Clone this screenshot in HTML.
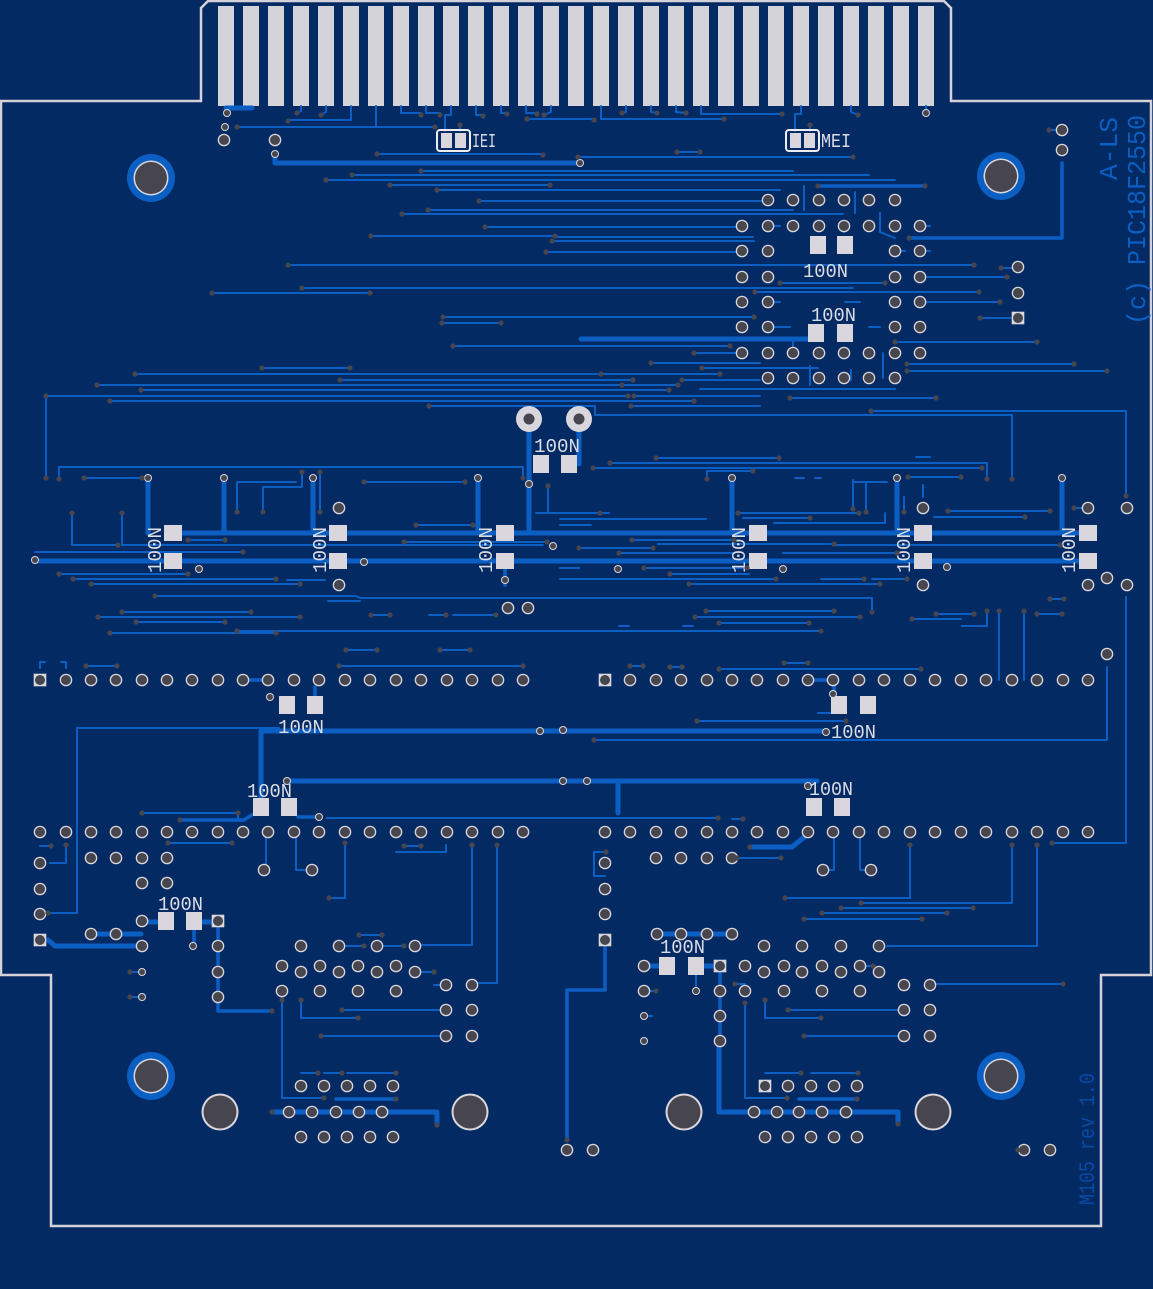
<!DOCTYPE html>
<html><head><meta charset="utf-8"><style>
html,body{margin:0;padding:0;background:#042a64;}
svg{display:block}
.t{stroke:#0b5ec2;stroke-width:2;fill:none;stroke-linecap:round;stroke-linejoin:round}
.m{stroke:#0b5ec2;stroke-width:3.5;fill:none;stroke-linecap:round;stroke-linejoin:round}
.T{stroke:#0b5ec2;stroke-width:5;fill:none;stroke-linecap:round;stroke-linejoin:round}
.w{fill:#dcdce4;font-family:"Liberation Mono",monospace;font-size:19px}
.b{fill:#0b5ec2;font-family:"Liberation Mono",monospace;font-size:26px}
</style></head><body>
<svg width="1153" height="1289" viewBox="0 0 1153 1289" xmlns="http://www.w3.org/2000/svg">
<defs>
<g id="p"><circle r="6.3" fill="#d9d7dd"/><circle r="5" fill="#47454d"/></g>
<g id="q"><rect x="-6.3" y="-6.3" width="12.6" height="12.6" fill="#d9d7dd"/><circle r="5" fill="#47454d"/></g>
<g id="r"><circle r="4" fill="#d9d7dd"/><circle r="3" fill="#47454d"/></g>
<circle id="v" r="2.6" fill="#47454d"/>
<rect id="s" x="-8" y="-9" width="16" height="18" fill="#d9d7dd"/>
<rect id="h" x="-9" y="-8" width="18" height="16" fill="#d9d7dd"/>
<g id="M"><circle r="24" fill="#0b5ec2"/><circle r="17.5" fill="#d9d7dd"/><circle r="16" fill="#47454d"/></g>
<g id="H"><circle r="18.5" fill="#d9d7dd"/><circle r="16.5" fill="#47454d"/></g>
</defs>
<rect width="1153" height="1289" fill="#042a64"/>
<!-- board outline -->
<path d="M0,101 H201 V8 L208,1 H944 L951,8 V101 H1151 V975 H1101 V1226 H51 V975 H1 V101" fill="none" stroke="#d4d2d8" stroke-width="2.5"/>
<!-- fingers -->
<g fill="#d5d3da">
<rect x="218" y="6" width="16" height="100"/><rect x="243" y="6" width="16" height="100"/><rect x="268" y="6" width="16" height="100"/><rect x="293" y="6" width="16" height="100"/><rect x="318" y="6" width="16" height="100"/><rect x="343" y="6" width="16" height="100"/><rect x="368" y="6" width="16" height="100"/><rect x="393" y="6" width="16" height="100"/><rect x="418" y="6" width="16" height="100"/><rect x="443" y="6" width="16" height="100"/><rect x="468" y="6" width="16" height="100"/><rect x="493" y="6" width="16" height="100"/><rect x="518" y="6" width="16" height="100"/><rect x="543" y="6" width="16" height="100"/><rect x="568" y="6" width="16" height="100"/><rect x="593" y="6" width="16" height="100"/><rect x="618" y="6" width="16" height="100"/><rect x="643" y="6" width="16" height="100"/><rect x="668" y="6" width="16" height="100"/><rect x="693" y="6" width="16" height="100"/><rect x="718" y="6" width="16" height="100"/><rect x="743" y="6" width="16" height="100"/><rect x="768" y="6" width="16" height="100"/><rect x="793" y="6" width="16" height="100"/><rect x="818" y="6" width="16" height="100"/><rect x="843" y="6" width="16" height="100"/><rect x="868" y="6" width="16" height="100"/><rect x="893" y="6" width="16" height="100"/><rect x="918" y="6" width="16" height="100"/>
</g>
<!-- thin traces -->
<path class="t" d="
M301,106 V111 L297,113 M326,106 V112 L321,115 M351,106 V120 H288 M376,106 V127 M237,127 H435
M401,106 V113 H421 M426,106 V113 H440 M451,106 V115 H445 V131 M460,125 V131 M476,106 V115 H483
M501,106 V113 H507 M526,106 V113 H537 M527,119 H594 M551,106 V112 L544,115 M601,106 V119 H724
M626,106 V112 L622,113 M651,106 V112 L657,113 M676,106 V112 L686,113 M701,106 V114 H782
M801,106 V114 H795 V131 M810,125 V131 M851,106 V112 L858,115 M926,106 V113
M377,154 H543 M578,157 H853 M677,152 H700 M421,171 H793 M352,175 H869 M326,180 H895 M390,185 H550
M437,190 H780 M479,201 H768 M428,210 H793 M402,214 H843 M485,227 H742 M371,236 H555 L556,237 H753
M552,241 H754 M546,252 H742 M288,265 H974 M780,283 H885 M302,288 H853 M212,293 H370 M755,292 H979
M920,302 H1000 M920,277 H1007 M1001,268 H1013 M980,318 H1012 M443,317 H754 M442,323 H501 M895,342 H1037 M453,346 H730 M694,353 H742
M651,363 H760 M907,364 H1074 M262,368 H350 M702,368 H818 M907,371 H1107 M135,374 H720 M340,380 H633 M682,380 H760
M97,385 H678 M141,390 H669 M700,389 H895 M46,396 H628 M634,396 H760 M790,398 H936 M110,401 H694
M46,396 V478 M429,406 H595 V415 H1012 V479 M631,406 H760 M871,411 H1126 V496
M804,186 V210 M855,192 V213 M880,213 V232 L895,238 M768,226 H780 M844,226 V232 M895,251 H905 M920,226 H930 M920,251 H930
M768,302 H780 M845,302 H860 M768,327 H790 M742,353 H732 M793,353 V340 M869,327 H880 M883,353 V378 M851,370 V380 M810,366 V385
M1049,130 H1061
M59,479 V467 H523 V478 M84,478 H142 M72,513 V545 H118 M122,513 V545 H543 M188,540 H225 M35,552 H243
M237,512 V482 H296 M263,512 V487 H302 V472 M320,472 V512 M364,482 H465 M416,525 H473 M404,542 H547 M536,513 H600 M548,486 V513
M610,463 H987 V479 M593,468 H982 M656,458 H779 M916,457 H930 M707,479 V471 H753 M908,477 H961 M795,478 H804 M815,478 H821
M853,480 V509 M866,482 V512 M853,482 H887 M923,485 V497 M904,497 V512 M738,513 H859 M743,518 H810 M774,523 H885 V513
M948,511 H1050 M934,517 H1025 M560,513 H609 M560,519 H706 M560,525 H591 M632,540 H734 M658,544 H834 M834,545 H948 M579,548 H653
M619,553 H734 M783,553 H897 M560,568 H579 M644,568 H747 M670,574 H749 M560,579 H776 M821,579 H864 M872,579 H907 M689,584 H880
M936,545 H1060 M940,560 H1075 M1074,508 H1082
M155,596 H356 L360,598 H872 V612 M706,611 H834 M695,617 H860 M719,623 H809 M619,626 H629 M683,626 H693
M98,617 H300 M237,631 H821 M110,633 H276 M136,622 H225 M122,612 H251 M91,584 H300 M73,579 H276 M59,574 H188 M287,580 H325
M328,601 H360 M371,615 H390 M429,615 H446 M453,615 H496 M346,650 H377 M440,650 H470
M936,614 H974 M1037,614 H1062 M912,619 H961 M962,626 H987 V611 M999,611 V680 M1024,611 V680 M1050,599 H1064
M1126,597 V843 H1052 M1107,667 V740 H594
M86,666 H117 M339,666 H523 M40,668 V662 H45 M61,662 H66 V668 M630,666 H643 M670,667 H682 M784,663 H808 M719,669 H921
M77,728 H279 M77,728 V913 H48 M697,721 H846 M818,713 H832
M142,813 H238 V820 M327,818 H718 M732,819 H743
M737,858 H781 M594,852 V876 H605 M594,852 H606
M168,843 H232 M40,846 H51 M66,845 V863 H50 M404,846 H421 M396,852 H446 V845 M472,845 V945 H415 M497,845 V983 H472
M266,838 V870 M296,838 V870 H312 M345,843 V898 H329 M834,838 V870 H823 M860,838 V870 H871
M910,845 V898 H785 M1012,845 V903 H861 M841,908 H973 M822,913 H947 M804,919 H922 M1037,845 V946 H887 M936,984 H1063
M359,935 H382 M339,946 H364 M377,946 H404 M415,972 H434 M434,985 H446 M130,972 H142 M130,997 H142
M282,991 V1098 H324 M301,1000 V1018 H358 M342,1010 H446 M321,1036 H446
M301,1073 H318 M324,1073 H342 M347,1073 H396
M656,991 H644 M745,1003 V1098 H787 M765,1000 V1018 H821 M788,1010 H904 M804,1036 H904
M765,1073 H801 M811,1073 H858 M696,975 V991 M644,1016 H652 M860,966 H873 M745,984 H735
M1018,1150 H1024"/>
<!-- medium traces -->
<path class="m" d="M1062,163 V238 H909 M818,186 H925 M605,940 V990 H567 V1140 M218,921 V1011 H272 M720,966 V1041
M336,1099 H396 M799,1099 H857 M243,680 H268 M808,680 H833 M834,686 V697 M315,687 V697 M298,817 H320
M180,820 H244 L252,815 M194,930 V946 M505,561 V585 M505,560 V578"/>
<!-- thick traces -->
<path class="T" d="M226,108 H252 M275,155 V163 H580 M581,339 H807
M148,478 V533 M224,478 V533 M313,478 V533 M478,478 V533 M529,430 V533 M579,430 V464 M732,478 V533 M897,478 V533 M1062,478 V533
M173,533 H1088 M35,561 H1088
M261,731 H826 M261,731 V806 M287,781 H817 M618,781 V813 M750,847 H792 L808,834
M91,934 H141 M48,940 L55,946 H142 M142,922 H158 M202,922 H218 M644,966 H658 M704,966 H720 M657,934 H732
M272,1112 H437 V1125 M719,1045 V1112 H898 V1124"/>
<!-- mounting holes -->
<use href="#M" x="151" y="178"/><use href="#M" x="1001" y="176"/><use href="#M" x="151" y="1076"/><use href="#M" x="1001" y="1076"/>
<use href="#H" x="220" y="1112"/><use href="#H" x="470" y="1112"/><use href="#H" x="684" y="1112"/><use href="#H" x="933" y="1112"/>
<!-- top misc pads -->
<use href="#r" x="227" y="113"/><use href="#r" x="225" y="127"/><use href="#p" x="224" y="140"/><use href="#p" x="275" y="140"/><use href="#r" x="275" y="154"/>
<use href="#r" x="926" y="113"/><use href="#r" x="580" y="163"/>
<use href="#p" x="1062" y="130"/><use href="#p" x="1062" y="150"/><use href="#p" x="1018" y="267"/><use href="#p" x="1018" y="293"/><use href="#q" x="1018" y="318"/>
<!-- IEI / MEI -->
<rect x="437" y="130" width="33" height="21" rx="3" fill="none" stroke="#eeeef2" stroke-width="2"/>
<rect x="441" y="133" width="11" height="15" fill="#d9d7dd"/><rect x="455" y="133" width="11" height="15" fill="#d9d7dd"/>
<rect x="786" y="130" width="33" height="21" rx="3" fill="none" stroke="#eeeef2" stroke-width="2"/>
<rect x="790" y="133" width="11" height="15" fill="#d9d7dd"/><rect x="804" y="133" width="11" height="15" fill="#d9d7dd"/>
<text class="w" x="472" y="147" textLength="24" lengthAdjust="spacingAndGlyphs">IEI</text>
<text class="w" x="821" y="147" textLength="30" lengthAdjust="spacingAndGlyphs">MEI</text>
<!-- upper IC pads -->
<g>
<use href="#p" x="768" y="200"/><use href="#p" x="793" y="200"/><use href="#p" x="819" y="200"/><use href="#p" x="844" y="200"/><use href="#p" x="869" y="200"/><use href="#p" x="895" y="200"/>
<use href="#p" x="742" y="226"/><use href="#p" x="768" y="226"/><use href="#p" x="793" y="226"/><use href="#p" x="819" y="226"/><use href="#p" x="844" y="226"/><use href="#p" x="869" y="226"/><use href="#p" x="895" y="226"/><use href="#p" x="920" y="226"/>
<use href="#p" x="742" y="251"/><use href="#p" x="768" y="251"/><use href="#p" x="895" y="251"/><use href="#p" x="920" y="251"/>
<use href="#p" x="742" y="277"/><use href="#p" x="768" y="277"/><use href="#p" x="895" y="277"/><use href="#p" x="920" y="277"/>
<use href="#p" x="742" y="302"/><use href="#p" x="768" y="302"/><use href="#p" x="895" y="302"/><use href="#p" x="920" y="302"/>
<use href="#p" x="742" y="327"/><use href="#p" x="768" y="327"/><use href="#p" x="895" y="327"/><use href="#p" x="920" y="327"/>
<use href="#p" x="742" y="353"/><use href="#p" x="768" y="353"/><use href="#p" x="793" y="353"/><use href="#p" x="819" y="353"/><use href="#p" x="844" y="353"/><use href="#p" x="869" y="353"/><use href="#p" x="895" y="353"/><use href="#p" x="920" y="353"/>
<use href="#p" x="768" y="378"/><use href="#p" x="793" y="378"/><use href="#p" x="819" y="378"/><use href="#p" x="844" y="378"/><use href="#p" x="869" y="378"/><use href="#p" x="895" y="378"/>
</g>
<use href="#s" x="818" y="245"/><use href="#s" x="845" y="245"/><use href="#s" x="816" y="333"/><use href="#s" x="845" y="333"/>
<text class="w" x="803" y="277" textLength="45" lengthAdjust="spacingAndGlyphs">100N</text>
<text class="w" x="811" y="321" textLength="45" lengthAdjust="spacingAndGlyphs">100N</text>
<!-- center cap -->
<circle cx="529" cy="419" r="13" fill="#d9d7dd"/><circle cx="529" cy="419" r="5.5" fill="#47454d"/>
<circle cx="579" cy="419" r="13" fill="#d9d7dd"/><circle cx="579" cy="419" r="5.5" fill="#47454d"/>
<use href="#s" x="541" y="464"/><use href="#s" x="569" y="464"/>
<text class="w" x="534" y="452" textLength="46" lengthAdjust="spacingAndGlyphs">100N</text>
<!-- row caps -->
<use href="#h" x="173" y="533"/><use href="#h" x="173" y="561"/><use href="#h" x="338" y="533"/><use href="#h" x="338" y="561"/>
<use href="#h" x="505" y="533"/><use href="#h" x="505" y="561"/><use href="#h" x="758" y="533"/><use href="#h" x="758" y="561"/>
<use href="#h" x="923" y="533"/><use href="#h" x="923" y="561"/><use href="#h" x="1088" y="533"/><use href="#h" x="1088" y="561"/>
<text class="w" transform="translate(161,573) rotate(-90)" textLength="46" lengthAdjust="spacingAndGlyphs">100N</text>
<text class="w" transform="translate(326,573) rotate(-90)" textLength="46" lengthAdjust="spacingAndGlyphs">100N</text>
<text class="w" transform="translate(492,573) rotate(-90)" textLength="46" lengthAdjust="spacingAndGlyphs">100N</text>
<text class="w" transform="translate(745,573) rotate(-90)" textLength="46" lengthAdjust="spacingAndGlyphs">100N</text>
<text class="w" transform="translate(910,573) rotate(-90)" textLength="46" lengthAdjust="spacingAndGlyphs">100N</text>
<text class="w" transform="translate(1075,573) rotate(-90)" textLength="46" lengthAdjust="spacingAndGlyphs">100N</text>
<!-- middle pads -->
<use href="#p" x="339" y="508"/><use href="#p" x="339" y="585"/><use href="#p" x="923" y="508"/><use href="#p" x="923" y="585"/>
<use href="#p" x="1088" y="508"/><use href="#p" x="1127" y="508"/><use href="#p" x="1107" y="578"/><use href="#p" x="1088" y="585"/><use href="#p" x="1127" y="585"/><use href="#p" x="1107" y="654"/>
<use href="#p" x="508" y="608"/><use href="#p" x="528" y="608"/>
<use href="#r" x="148" y="478"/><use href="#r" x="224" y="478"/><use href="#r" x="313" y="478"/><use href="#r" x="478" y="478"/><use href="#r" x="529" y="484"/>
<use href="#r" x="732" y="478"/><use href="#r" x="897" y="478"/><use href="#r" x="1062" y="478"/><use href="#r" x="35" y="560"/><use href="#r" x="199" y="569"/><use href="#r" x="364" y="562"/><use href="#r" x="505" y="580"/>
<use href="#r" x="553" y="546"/><use href="#r" x="618" y="569"/><use href="#r" x="783" y="569"/><use href="#r" x="947" y="567"/>
<!-- pad rows -->
<g>
<use href="#q" x="40" y="680"/><use href="#p" x="66" y="680"/><use href="#p" x="91" y="680"/><use href="#p" x="116" y="680"/><use href="#p" x="142" y="680"/><use href="#p" x="167" y="680"/><use href="#p" x="192" y="680"/><use href="#p" x="218" y="680"/><use href="#p" x="243" y="680"/><use href="#p" x="268" y="680"/><use href="#p" x="294" y="680"/><use href="#p" x="319" y="680"/><use href="#p" x="345" y="680"/><use href="#p" x="370" y="680"/><use href="#p" x="396" y="680"/><use href="#p" x="421" y="680"/><use href="#p" x="447" y="680"/><use href="#p" x="472" y="680"/><use href="#p" x="498" y="680"/><use href="#p" x="523" y="680"/>
<use href="#q" x="605" y="680"/><use href="#p" x="630" y="680"/><use href="#p" x="656" y="680"/><use href="#p" x="681" y="680"/><use href="#p" x="707" y="680"/><use href="#p" x="732" y="680"/><use href="#p" x="757" y="680"/><use href="#p" x="783" y="680"/><use href="#p" x="808" y="680"/><use href="#p" x="833" y="680"/><use href="#p" x="859" y="680"/><use href="#p" x="884" y="680"/><use href="#p" x="910" y="680"/><use href="#p" x="935" y="680"/><use href="#p" x="961" y="680"/><use href="#p" x="986" y="680"/><use href="#p" x="1012" y="680"/><use href="#p" x="1037" y="680"/><use href="#p" x="1063" y="680"/><use href="#p" x="1088" y="680"/>
<use href="#p" x="40" y="832"/><use href="#p" x="66" y="832"/><use href="#p" x="91" y="832"/><use href="#p" x="116" y="832"/><use href="#p" x="142" y="832"/><use href="#p" x="167" y="832"/><use href="#p" x="192" y="832"/><use href="#p" x="218" y="832"/><use href="#p" x="243" y="832"/><use href="#p" x="268" y="832"/><use href="#p" x="294" y="832"/><use href="#p" x="319" y="832"/><use href="#p" x="345" y="832"/><use href="#p" x="370" y="832"/><use href="#p" x="396" y="832"/><use href="#p" x="421" y="832"/><use href="#p" x="447" y="832"/><use href="#p" x="472" y="832"/><use href="#p" x="498" y="832"/><use href="#p" x="523" y="832"/>
<use href="#p" x="605" y="832"/><use href="#p" x="630" y="832"/><use href="#p" x="656" y="832"/><use href="#p" x="681" y="832"/><use href="#p" x="707" y="832"/><use href="#p" x="732" y="832"/><use href="#p" x="757" y="832"/><use href="#p" x="783" y="832"/><use href="#p" x="808" y="832"/><use href="#p" x="833" y="832"/><use href="#p" x="859" y="832"/><use href="#p" x="884" y="832"/><use href="#p" x="910" y="832"/><use href="#p" x="935" y="832"/><use href="#p" x="961" y="832"/><use href="#p" x="986" y="832"/><use href="#p" x="1012" y="832"/><use href="#p" x="1037" y="832"/><use href="#p" x="1063" y="832"/><use href="#p" x="1088" y="832"/>
</g>
<!-- mid caps -->
<use href="#s" x="287" y="705"/><use href="#s" x="315" y="705"/><use href="#s" x="261" y="807"/><use href="#s" x="289" y="807"/>
<use href="#s" x="839" y="705"/><use href="#s" x="868" y="705"/><use href="#s" x="814" y="807"/><use href="#s" x="842" y="807"/>
<use href="#r" x="270" y="697"/><use href="#r" x="287" y="781"/><use href="#r" x="540" y="731"/><use href="#r" x="563" y="730"/><use href="#r" x="826" y="732"/><use href="#r" x="563" y="781"/><use href="#r" x="587" y="781"/><use href="#r" x="319" y="817"/><use href="#r" x="808" y="786"/><use href="#r" x="833" y="694"/>
<text class="w" x="278" y="733" textLength="46" lengthAdjust="spacingAndGlyphs">100N</text>
<text class="w" x="247" y="797" textLength="45" lengthAdjust="spacingAndGlyphs">100N</text>
<text class="w" x="831" y="738" textLength="45" lengthAdjust="spacingAndGlyphs">100N</text>
<text class="w" x="809" y="795" textLength="44" lengthAdjust="spacingAndGlyphs">100N</text>
<!-- lower left -->
<g>
<use href="#p" x="40" y="863"/><use href="#p" x="40" y="889"/><use href="#p" x="40" y="914"/><use href="#q" x="40" y="940"/>
<use href="#p" x="91" y="858"/><use href="#p" x="116" y="858"/><use href="#p" x="142" y="858"/><use href="#p" x="167" y="858"/>
<use href="#p" x="142" y="883"/><use href="#p" x="167" y="883"/><use href="#p" x="142" y="921"/><use href="#q" x="218" y="921"/>
<use href="#p" x="91" y="934"/><use href="#p" x="116" y="934"/><use href="#p" x="142" y="946"/><use href="#r" x="193" y="946"/>
<use href="#p" x="218" y="946"/><use href="#p" x="218" y="972"/><use href="#p" x="218" y="997"/><use href="#r" x="142" y="972"/><use href="#r" x="142" y="997"/>
<use href="#p" x="264" y="870"/><use href="#p" x="312" y="870"/>
<use href="#p" x="301" y="946"/><use href="#p" x="339" y="946"/><use href="#p" x="377" y="946"/><use href="#p" x="415" y="946"/>
<use href="#p" x="282" y="966"/><use href="#p" x="320" y="966"/><use href="#p" x="358" y="966"/><use href="#p" x="396" y="966"/>
<use href="#p" x="301" y="972"/><use href="#p" x="339" y="972"/><use href="#p" x="377" y="972"/><use href="#p" x="415" y="972"/>
<use href="#p" x="282" y="991"/><use href="#p" x="320" y="991"/><use href="#p" x="358" y="991"/><use href="#p" x="396" y="991"/>
<use href="#p" x="446" y="985"/><use href="#p" x="472" y="985"/><use href="#p" x="446" y="1010"/><use href="#p" x="472" y="1010"/><use href="#p" x="446" y="1036"/><use href="#p" x="472" y="1036"/>
<use href="#p" x="301" y="1086"/><use href="#p" x="324" y="1086"/><use href="#p" x="347" y="1086"/><use href="#p" x="370" y="1086"/><use href="#p" x="393" y="1086"/>
<use href="#p" x="289" y="1112"/><use href="#p" x="312" y="1112"/><use href="#p" x="336" y="1112"/><use href="#p" x="359" y="1112"/><use href="#p" x="382" y="1112"/>
<use href="#p" x="301" y="1137"/><use href="#p" x="324" y="1137"/><use href="#p" x="347" y="1137"/><use href="#p" x="370" y="1137"/><use href="#p" x="393" y="1137"/>
</g>
<use href="#s" x="166" y="921"/><use href="#s" x="194" y="921"/>
<text class="w" x="158" y="910" textLength="45" lengthAdjust="spacingAndGlyphs">100N</text>
<!-- lower right -->
<g>
<use href="#p" x="605" y="863"/><use href="#p" x="605" y="889"/><use href="#p" x="605" y="914"/><use href="#q" x="605" y="940"/>
<use href="#p" x="656" y="858"/><use href="#p" x="681" y="858"/><use href="#p" x="707" y="858"/><use href="#p" x="732" y="858"/>
<use href="#p" x="657" y="934"/><use href="#p" x="681" y="934"/><use href="#p" x="707" y="934"/><use href="#p" x="732" y="934"/>
<use href="#p" x="644" y="966"/><use href="#q" x="720" y="966"/><use href="#p" x="644" y="991"/><use href="#p" x="720" y="991"/><use href="#r" x="696" y="991"/>
<use href="#r" x="644" y="1016"/><use href="#r" x="644" y="1041"/><use href="#p" x="720" y="1016"/><use href="#p" x="720" y="1041"/>
<use href="#p" x="823" y="870"/><use href="#p" x="871" y="870"/>
<use href="#p" x="764" y="946"/><use href="#p" x="802" y="946"/><use href="#p" x="841" y="946"/><use href="#p" x="879" y="946"/>
<use href="#p" x="745" y="966"/><use href="#p" x="784" y="966"/><use href="#p" x="822" y="966"/><use href="#p" x="860" y="966"/>
<use href="#p" x="764" y="972"/><use href="#p" x="802" y="972"/><use href="#p" x="841" y="972"/><use href="#p" x="879" y="972"/>
<use href="#p" x="745" y="991"/><use href="#p" x="784" y="991"/><use href="#p" x="822" y="991"/><use href="#p" x="860" y="991"/>
<use href="#p" x="904" y="985"/><use href="#p" x="930" y="985"/><use href="#p" x="904" y="1010"/><use href="#p" x="930" y="1010"/><use href="#p" x="904" y="1036"/><use href="#p" x="930" y="1036"/>
<use href="#q" x="765" y="1086"/><use href="#p" x="788" y="1086"/><use href="#p" x="811" y="1086"/><use href="#p" x="834" y="1086"/><use href="#p" x="857" y="1086"/>
<use href="#p" x="754" y="1112"/><use href="#p" x="777" y="1112"/><use href="#p" x="799" y="1112"/><use href="#p" x="822" y="1112"/><use href="#p" x="846" y="1112"/>
<use href="#p" x="765" y="1137"/><use href="#p" x="788" y="1137"/><use href="#p" x="811" y="1137"/><use href="#p" x="834" y="1137"/><use href="#p" x="857" y="1137"/>
<use href="#p" x="567" y="1150"/><use href="#p" x="593" y="1150"/><use href="#p" x="1024" y="1150"/><use href="#p" x="1050" y="1150"/>
</g>
<use href="#s" x="667" y="966"/><use href="#s" x="696" y="966"/>
<text class="w" x="660" y="953" textLength="45" lengthAdjust="spacingAndGlyphs">100N</text>
<!-- vias -->
<g>
<use href="#v" x="297" y="113"/><use href="#v" x="321" y="115"/><use href="#v" x="288" y="121"/><use href="#v" x="237" y="127"/><use href="#v" x="435" y="127"/><use href="#v" x="421" y="115"/><use href="#v" x="440" y="115"/><use href="#v" x="460" y="125"/><use href="#v" x="483" y="116"/><use href="#v" x="507" y="114"/><use href="#v" x="537" y="114"/><use href="#v" x="527" y="119"/><use href="#v" x="544" y="115"/><use href="#v" x="594" y="120"/><use href="#v" x="622" y="113"/><use href="#v" x="657" y="113"/><use href="#v" x="686" y="113"/><use href="#v" x="724" y="119"/><use href="#v" x="782" y="114"/><use href="#v" x="810" y="125"/><use href="#v" x="858" y="115"/>
<use href="#v" x="543" y="155"/><use href="#v" x="377" y="154"/><use href="#v" x="578" y="157"/><use href="#v" x="853" y="157"/><use href="#v" x="677" y="152"/><use href="#v" x="700" y="152"/><use href="#v" x="421" y="171"/><use href="#v" x="352" y="175"/><use href="#v" x="326" y="180"/><use href="#v" x="390" y="185"/><use href="#v" x="550" y="185"/><use href="#v" x="818" y="186"/><use href="#v" x="925" y="186"/><use href="#v" x="437" y="190"/><use href="#v" x="479" y="201"/><use href="#v" x="428" y="210"/><use href="#v" x="402" y="214"/><use href="#v" x="485" y="227"/><use href="#v" x="371" y="236"/><use href="#v" x="555" y="236"/><use href="#v" x="552" y="241"/><use href="#v" x="546" y="252"/><use href="#v" x="288" y="265"/><use href="#v" x="974" y="265"/><use href="#v" x="302" y="288"/><use href="#v" x="212" y="293"/><use href="#v" x="370" y="293"/><use href="#v" x="443" y="317"/><use href="#v" x="754" y="317"/><use href="#v" x="442" y="323"/><use href="#v" x="501" y="323"/><use href="#v" x="453" y="346"/><use href="#v" x="730" y="346"/><use href="#v" x="694" y="353"/><use href="#v" x="651" y="363"/><use href="#v" x="262" y="368"/><use href="#v" x="350" y="368"/><use href="#v" x="702" y="368"/><use href="#v" x="135" y="374"/><use href="#v" x="720" y="374"/><use href="#v" x="601" y="374"/><use href="#v" x="340" y="380"/><use href="#v" x="633" y="380"/><use href="#v" x="682" y="380"/><use href="#v" x="97" y="385"/><use href="#v" x="678" y="385"/><use href="#v" x="622" y="385"/><use href="#v" x="141" y="390"/><use href="#v" x="669" y="390"/><use href="#v" x="46" y="396"/><use href="#v" x="628" y="396"/><use href="#v" x="634" y="396"/><use href="#v" x="110" y="401"/><use href="#v" x="694" y="401"/><use href="#v" x="429" y="406"/><use href="#v" x="631" y="406"/><use href="#v" x="871" y="411"/><use href="#v" x="1126" y="496"/><use href="#v" x="1012" y="479"/><use href="#v" x="1049" y="130"/><use href="#v" x="1001" y="268"/><use href="#v" x="1007" y="277"/><use href="#v" x="1000" y="302"/><use href="#v" x="980" y="318"/><use href="#v" x="1037" y="342"/><use href="#v" x="1074" y="364"/><use href="#v" x="1107" y="371"/><use href="#v" x="909" y="238"/><use href="#v" x="780" y="283"/><use href="#v" x="885" y="283"/><use href="#v" x="755" y="292"/><use href="#v" x="979" y="292"/><use href="#v" x="907" y="364"/><use href="#v" x="907" y="371"/><use href="#v" x="790" y="398"/><use href="#v" x="936" y="398"/><use href="#v" x="1000" y="302"/><use href="#v" x="895" y="342"/>
<use href="#v" x="59" y="479"/><use href="#v" x="46" y="478"/><use href="#v" x="84" y="478"/><use href="#v" x="142" y="478"/><use href="#v" x="72" y="513"/><use href="#v" x="122" y="513"/><use href="#v" x="118" y="545"/><use href="#v" x="188" y="540"/><use href="#v" x="225" y="540"/><use href="#v" x="243" y="552"/><use href="#v" x="237" y="512"/><use href="#v" x="263" y="512"/><use href="#v" x="302" y="472"/><use href="#v" x="320" y="472"/><use href="#v" x="320" y="512"/><use href="#v" x="364" y="482"/><use href="#v" x="465" y="482"/><use href="#v" x="416" y="525"/><use href="#v" x="473" y="525"/><use href="#v" x="404" y="542"/><use href="#v" x="547" y="542"/><use href="#v" x="600" y="513"/><use href="#v" x="548" y="486"/><use href="#v" x="523" y="478"/>
<use href="#v" x="610" y="463"/><use href="#v" x="987" y="479"/><use href="#v" x="593" y="468"/><use href="#v" x="982" y="468"/><use href="#v" x="656" y="458"/><use href="#v" x="779" y="458"/><use href="#v" x="707" y="479"/><use href="#v" x="753" y="471"/><use href="#v" x="908" y="477"/><use href="#v" x="961" y="477"/><use href="#v" x="853" y="509"/><use href="#v" x="866" y="512"/><use href="#v" x="904" y="512"/><use href="#v" x="738" y="513"/><use href="#v" x="859" y="513"/><use href="#v" x="810" y="518"/><use href="#v" x="948" y="511"/><use href="#v" x="1050" y="511"/><use href="#v" x="1025" y="517"/><use href="#v" x="632" y="540"/><use href="#v" x="734" y="540"/><use href="#v" x="834" y="544"/><use href="#v" x="1060" y="545"/><use href="#v" x="579" y="548"/><use href="#v" x="653" y="548"/><use href="#v" x="619" y="553"/><use href="#v" x="897" y="553"/><use href="#v" x="644" y="568"/><use href="#v" x="747" y="568"/><use href="#v" x="670" y="574"/><use href="#v" x="776" y="579"/><use href="#v" x="864" y="579"/><use href="#v" x="907" y="579"/><use href="#v" x="689" y="584"/><use href="#v" x="880" y="584"/><use href="#v" x="1074" y="508"/>
<use href="#v" x="155" y="596"/><use href="#v" x="872" y="612"/><use href="#v" x="706" y="611"/><use href="#v" x="834" y="611"/><use href="#v" x="695" y="617"/><use href="#v" x="860" y="617"/><use href="#v" x="719" y="623"/><use href="#v" x="809" y="623"/><use href="#v" x="98" y="617"/><use href="#v" x="300" y="617"/><use href="#v" x="237" y="631"/><use href="#v" x="821" y="631"/><use href="#v" x="110" y="633"/><use href="#v" x="276" y="633"/><use href="#v" x="136" y="622"/><use href="#v" x="225" y="622"/><use href="#v" x="122" y="612"/><use href="#v" x="251" y="612"/><use href="#v" x="91" y="584"/><use href="#v" x="300" y="584"/><use href="#v" x="73" y="579"/><use href="#v" x="276" y="579"/><use href="#v" x="59" y="574"/><use href="#v" x="188" y="574"/><use href="#v" x="371" y="615"/><use href="#v" x="390" y="615"/><use href="#v" x="446" y="615"/><use href="#v" x="496" y="615"/><use href="#v" x="346" y="650"/><use href="#v" x="377" y="650"/><use href="#v" x="440" y="650"/><use href="#v" x="470" y="650"/><use href="#v" x="936" y="614"/><use href="#v" x="974" y="614"/><use href="#v" x="1037" y="614"/><use href="#v" x="1062" y="614"/><use href="#v" x="912" y="619"/><use href="#v" x="987" y="611"/><use href="#v" x="999" y="611"/><use href="#v" x="1024" y="611"/><use href="#v" x="1050" y="599"/><use href="#v" x="1064" y="599"/><use href="#v" x="1052" y="843"/><use href="#v" x="594" y="740"/>
<use href="#v" x="86" y="666"/><use href="#v" x="117" y="666"/><use href="#v" x="339" y="666"/><use href="#v" x="523" y="666"/><use href="#v" x="630" y="666"/><use href="#v" x="643" y="666"/><use href="#v" x="670" y="667"/><use href="#v" x="682" y="667"/><use href="#v" x="784" y="663"/><use href="#v" x="808" y="663"/><use href="#v" x="719" y="669"/><use href="#v" x="921" y="669"/><use href="#v" x="697" y="721"/><use href="#v" x="846" y="721"/><use href="#v" x="142" y="813"/><use href="#v" x="238" y="813"/><use href="#v" x="180" y="820"/><use href="#v" x="718" y="818"/><use href="#v" x="743" y="819"/><use href="#v" x="737" y="858"/><use href="#v" x="781" y="858"/><use href="#v" x="750" y="847"/><use href="#v" x="168" y="843"/><use href="#v" x="232" y="843"/><use href="#v" x="51" y="846"/><use href="#v" x="66" y="845"/><use href="#v" x="404" y="846"/><use href="#v" x="421" y="846"/><use href="#v" x="472" y="845"/><use href="#v" x="497" y="845"/><use href="#v" x="345" y="843"/><use href="#v" x="329" y="898"/><use href="#v" x="910" y="845"/><use href="#v" x="785" y="898"/><use href="#v" x="1012" y="845"/><use href="#v" x="861" y="903"/><use href="#v" x="841" y="908"/><use href="#v" x="973" y="908"/><use href="#v" x="822" y="913"/><use href="#v" x="947" y="913"/><use href="#v" x="804" y="919"/><use href="#v" x="922" y="919"/><use href="#v" x="1037" y="845"/><use href="#v" x="1063" y="984"/><use href="#v" x="48" y="913"/>
<use href="#v" x="359" y="935"/><use href="#v" x="382" y="935"/><use href="#v" x="364" y="946"/><use href="#v" x="404" y="946"/><use href="#v" x="434" y="972"/><use href="#v" x="130" y="972"/><use href="#v" x="130" y="997"/><use href="#v" x="282" y="1000"/><use href="#v" x="324" y="1098"/><use href="#v" x="301" y="1000"/><use href="#v" x="358" y="1018"/><use href="#v" x="342" y="1010"/><use href="#v" x="321" y="1036"/><use href="#v" x="318" y="1073"/><use href="#v" x="342" y="1073"/><use href="#v" x="396" y="1073"/><use href="#v" x="396" y="1099"/><use href="#v" x="437" y="1125"/><use href="#v" x="272" y="1011"/><use href="#v" x="272" y="1112"/><use href="#v" x="567" y="1140"/>
<use href="#v" x="745" y="1003"/><use href="#v" x="787" y="1098"/><use href="#v" x="765" y="1000"/><use href="#v" x="821" y="1018"/><use href="#v" x="788" y="1010"/><use href="#v" x="804" y="1036"/><use href="#v" x="801" y="1073"/><use href="#v" x="858" y="1073"/><use href="#v" x="857" y="1099"/><use href="#v" x="898" y="1124"/><use href="#v" x="656" y="991"/><use href="#v" x="873" y="966"/><use href="#v" x="735" y="984"/><use href="#v" x="1018" y="1150"/><use href="#v" x="606" y="852"/>
</g>
<!-- blue silkscreen -->
<text class="b" transform="translate(1117,180) rotate(-90)" textLength="63" lengthAdjust="spacingAndGlyphs">A-LS</text>
<text class="b" transform="translate(1145,325) rotate(-90)" textLength="210" lengthAdjust="spacingAndGlyphs">(c) PIC18F2550</text>
<text class="b" style="fill:#0a49a3;font-size:22px" transform="translate(1094,1205) rotate(-90)" textLength="132" lengthAdjust="spacingAndGlyphs">M105 rev 1.0</text>
</svg>
</body></html>
